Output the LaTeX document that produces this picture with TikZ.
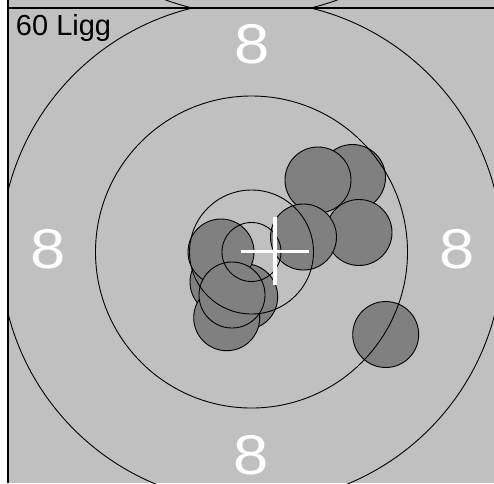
\documentclass[tikz,border=0pt]{standalone}
\usepackage{fontspec}
\setmainfont{Liberation Sans}
\definecolor{bgray}{RGB}{192,192,192}
\definecolor{shotgray}{RGB}{128,128,128}
\begin{document}
\begin{tikzpicture}[x=1pt,y=-1pt,
  ring/.style={draw=black,line width=0.9pt},
  hole/.style={circle,fill=shotgray,draw=black,line width=0.9pt,minimum size=66pt,inner sep=0pt,outer sep=0pt},
  eight/.style={text=white,inner sep=0pt,font=\fontsize{56}{60}\selectfont},
  crossline/.style={draw=white,line width=3.3pt}]
\useasboundingbox (0,0) rectangle (494,483);
\fill[white] (0,0) rectangle (494,483);
\fill[bgray] (8,0) rectangle (494,483);
% shots
\node[hole] (s1) at (352.5,177.5) {};
\node[hole] (s2) at (318,180) {};
\node[hole] (s3) at (359,232.5) {};
\node[hole] (s4) at (303.5,237) {};
\node[hole] (s5) at (385.7,334.5) {};
\node[hole] (s6) at (223,282) {};
\node[hole] (s7) at (244.7,296.7) {};
\node[hole] (s8) at (226.7,317.7) {};
\node[hole] (s9) at (221,252) {};
\node[hole] (s10) at (232,295) {};
% rings
\begin{scope}
  \clip (8,8) rectangle (494,483);
  \draw[ring] (251.5,252) circle[radius=251];
  \draw[ring] (251.5,252) circle[radius=156];
  \draw[ring] (251.5,252) circle[radius=62];
  \draw[ring] (251.5,252) circle[radius=29.5];
\end{scope}
\begin{scope}
  \clip (8,0) rectangle (494,8);
  \draw[ring] (251.5,-236) circle[radius=251];
\end{scope}
% frame
\draw[line width=1.4pt] (8,0) -- (8,483);
\draw[line width=1.2pt] (8,8) -- (494,8);
% ring numbers
\node[eight] (e1) at (251.7,44) {\scalebox{1.13}[1]{8}};
\node[eight] (e2) at (251.3,455.3) {\scalebox{1.13}[1]{8}};
\node[eight] (e3) at (48,249.3) {\scalebox{1.13}[1]{8}};
\node[eight] (e4) at (457,249.3) {\scalebox{1.13}[1]{8}};
% label
\node[anchor=base west,inner sep=0pt,font=\fontsize{29}{32}\selectfont] (lbl) at (15.8,35) {60 Ligg};
% mean point cross
\coordinate (cw) at (241,251.5);
\coordinate (ce) at (309,251.5);
\coordinate (cn) at (275,216.7);
\coordinate (cs) at (275,285);
\draw[crossline] (cw) -- (ce);
\draw[crossline] (cn) -- (cs);
\end{tikzpicture}
\end{document}
